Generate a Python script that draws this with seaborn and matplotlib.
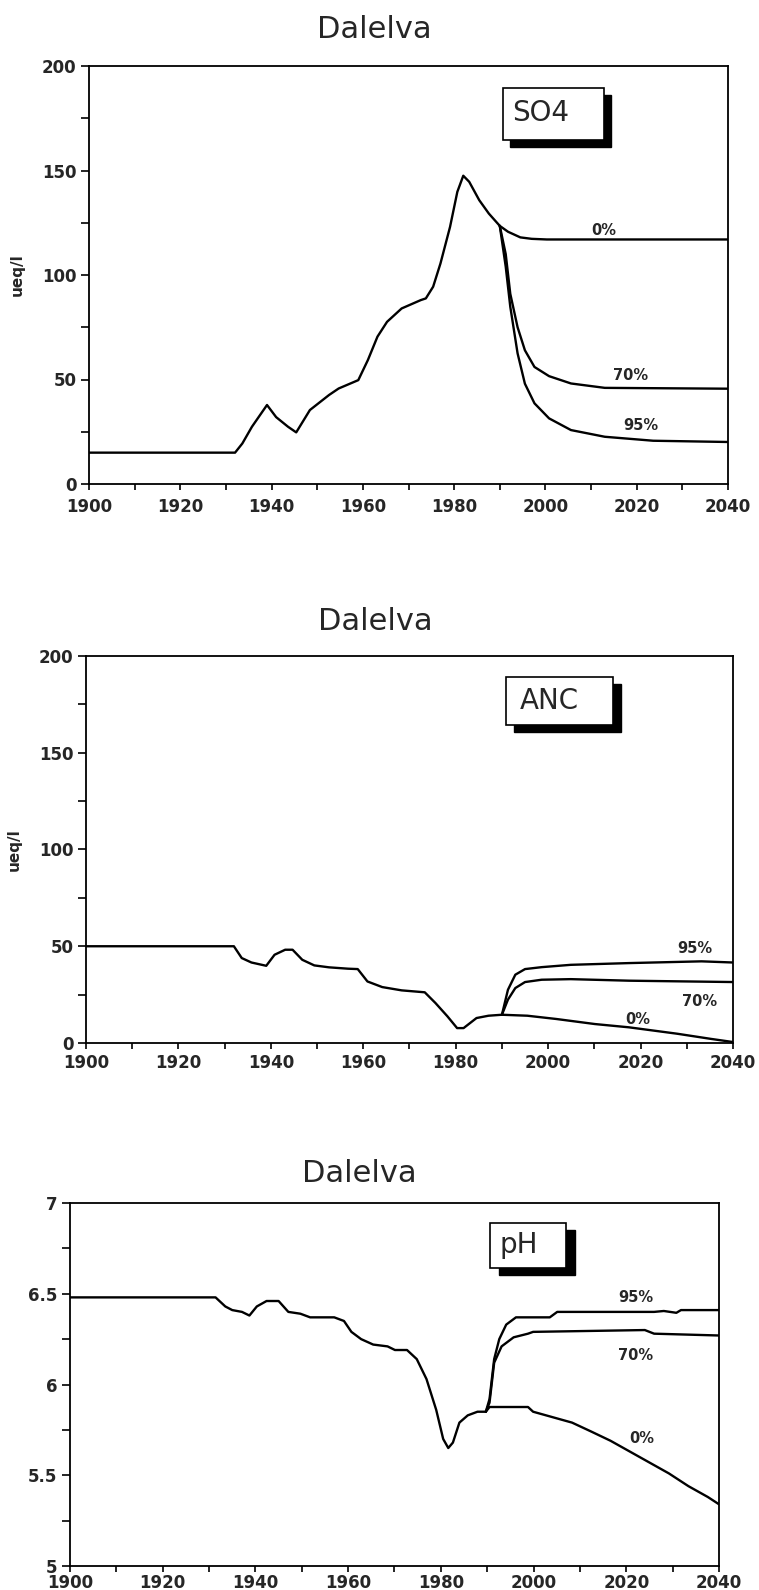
import numpy as np
import pandas as pd
import matplotlib
matplotlib.use("Agg")
import matplotlib.pyplot as plt
import seaborn as sns
from matplotlib.patches import Rectangle
from matplotlib.ticker import MultipleLocator, FuncFormatter

# ---- data ----
so4_hist_year = [1900, 1932, 1933.6, 1935.7, 1939, 1941, 1943.6, 1945.4, 1948.4, 1952.6, 1954.7,
                 1959, 1961.1, 1963.2, 1965.3, 1968.5, 1972.7, 1973.8, 1975.4, 1977, 1979.1,
                 1980.7, 1982, 1983.3, 1985.5, 1987.6, 1990]
so4_hist = [15, 15, 19.4, 27.4, 37.8, 32, 27.4, 24.7, 35.4, 42.6, 45.7, 49.7, 59.3, 70.5, 77.6,
            84, 88, 88.8, 94.4, 105.5, 123, 139.8, 147.5, 144.6, 135.8, 129.4, 123.5]
so4_0_year = [1990, 1991.8, 1994.5, 1997, 2000.3, 2040]
so4_0 = [123.5, 120.7, 118, 117.3, 117, 117]
so4_70_year = [1990, 1991.3, 1992.3, 1993.9, 1995.5, 1997.6, 2000.8, 2005.6, 2013, 2040]
so4_70 = [123.5, 110, 91, 75, 64, 56, 51.6, 48.1, 46, 45.6]
so4_95_year = [1990, 1991.3, 1992.3, 1993.9, 1995.5, 1997.6, 2000.8, 2005.6, 2013, 2023.6, 2040]
so4_95 = [123.5, 104, 84.8, 62.5, 48, 38.6, 31.4, 25.8, 22.6, 20.7, 20.1]

anc_hist_year = [1900, 1932, 1933.7, 1935.8, 1939, 1940.8, 1943.1, 1944.7, 1946.8, 1949.4, 1952.6,
                 1956.7, 1958.8, 1960.9, 1964.1, 1968.3, 1973.3, 1975.6, 1978.2, 1980.3, 1981.7,
                 1984.5, 1987.1, 1990]
anc_hist = [50, 50, 43.9, 41.6, 39.9, 45.6, 48.2, 48.2, 43, 40.1, 39.1, 38.4, 38.2, 31.8, 28.9,
            27.2, 26.2, 20.7, 13.8, 7.7, 7.7, 12.9, 14.1, 14.6]
anc_0_year = [1990, 1995.5, 2001.8, 2010.1, 2017.5, 2027.9, 2035.3, 2040]
anc_0 = [14.6, 14.1, 12.4, 9.8, 8.1, 4.8, 2.1, 0.5]
anc_70_year = [1990, 1991.3, 1992.9, 1995, 1998.6, 2004.9, 2017.5, 2040]
anc_70 = [14.6, 22.4, 28.4, 31.5, 32.7, 33, 32.2, 31.5]
anc_95_year = [1990, 1991.3, 1992.9, 1995, 1998.6, 2004.9, 2017.5, 2033.2, 2040]
anc_95 = [14.6, 27.5, 35.3, 38.2, 39.2, 40.4, 41.3, 42.2, 41.6]

ph_hist_year = [1900, 1931.4, 1933.5, 1935, 1937.1, 1938.7, 1940.3, 1942.4, 1945, 1947.1, 1949.7,
                1951.8, 1957, 1959.1, 1960.7, 1962.8, 1965.4, 1968.5, 1970.1, 1972.7, 1974.8,
                1976.9, 1979, 1980.5, 1981.6, 1982.6, 1984, 1985.8, 1987.9, 1989.7]
ph_hist = [6.48, 6.48, 6.43, 6.41, 6.40, 6.38, 6.43, 6.46, 6.46, 6.40, 6.39, 6.37, 6.37, 6.35,
           6.29, 6.25, 6.22, 6.21, 6.19, 6.19, 6.14, 6.03, 5.86, 5.70, 5.65, 5.68, 5.79, 5.83,
           5.85, 5.85]
ph_0_year = [1989.7, 1990.5, 1998.8, 1999.9, 2004.1, 2008.3, 2012.5, 2016.6, 2020.8, 2025,
             2029.2, 2033.4, 2037.6, 2040]
ph_0 = [5.85, 5.876, 5.876, 5.85, 5.82, 5.79, 5.74, 5.69, 5.63, 5.57, 5.51, 5.44, 5.38, 5.34]
ph_70_year = [1989.7, 1990.5, 1991.5, 1993.1, 1995.7, 1998.8, 1999.9, 2024, 2026, 2040]
ph_70 = [5.85, 5.90, 6.12, 6.21, 6.26, 6.28, 6.29, 6.30, 6.28, 6.27]
ph_95_year = [1989.7, 1990.5, 1991.5, 1992.6, 1994.1, 1996.2, 1999.9, 2003.5, 2005.1, 2026,
              2028.1, 2030.8, 2031.8, 2040]
ph_95 = [5.85, 5.92, 6.14, 6.25, 6.33, 6.37, 6.37, 6.37, 6.40, 6.40, 6.405, 6.395, 6.41, 6.41]

scenario_labels = ["0%", "70%", "95%"]

sns.set_style("ticks")
plt.rcParams['font.family'] = ['DejaVu Sans']

W, H = 759, 1590
fig = plt.figure(figsize=(W / 100, H / 100), dpi=100)


def px_axes(left, top, right, bottom):
    return fig.add_axes([left / W, 1 - bottom / H, (right - left) / W, (bottom - top) / H])


def shadow_box(left, top, right, bottom, dx, dy, text, tx, ty):
    # black offset rectangle first, then the white framed box over it
    fig.add_artist(Rectangle(((left + dx) / W, 1 - (bottom + dy) / H),
                             (right - left) / W, (bottom - top) / H, transform=fig.transFigure,
                             facecolor='black', edgecolor='black', zorder=5))
    fig.add_artist(Rectangle((left / W, 1 - bottom / H), (right - left) / W, (bottom - top) / H,
                             transform=fig.transFigure, facecolor='white', edgecolor='black',
                             linewidth=1.2, zorder=6))
    fig.text(tx / W, 1 - ty / H, text, fontsize=20, ha='left', va='center', zorder=7)


panels = [
    dict(box=(89, 66, 728, 484), title=(374, 29), ylim=(0, 200), major=50, minor=25,
         hist=(so4_hist_year, so4_hist),
         scen=[(so4_0_year, so4_0), (so4_70_year, so4_70), (so4_95_year, so4_95)],
         labpos=[(2012.8, 121.5), (2018.7, 51.7), (2020.9, 27.8)],
         ylabel=True, lbl_x=-0.100, xpad=6,
         sbox=(503, 88, 604, 140, 7, 7, "SO4", 512, 113)),
    dict(box=(86, 656, 733, 1043), title=(375, 622), ylim=(0, 200), major=50, minor=25,
         hist=(anc_hist_year, anc_hist),
         scen=[(anc_0_year, anc_0), (anc_70_year, anc_70), (anc_95_year, anc_95)],
         labpos=[(2019.3, 12.4), (2032.7, 21.2), (2031.8, 48.6)],
         ylabel=True, lbl_x=-0.099, xpad=4,
         sbox=(506, 677, 613, 725, 8, 7, "ANC", 520, 701)),
    dict(box=(70, 1203, 719, 1566), title=(359, 1173), ylim=(5, 7), major=0.5, minor=0.25,
         hist=(ph_hist_year, ph_hist),
         scen=[(ph_0_year, ph_0), (ph_70_year, ph_70), (ph_95_year, ph_95)],
         labpos=[(2023.4, 5.70), (2021.9, 6.16), (2022.1, 6.48)],
         ylabel=False, lbl_x=None, xpad=1.5,
         sbox=(490, 1223, 566, 1268, 9, 7, "pH", 499, 1245)),
]

for p in panels:
    ax = px_axes(*p['box'])
    frames = [pd.DataFrame({'year': p['hist'][0], 'value': p['hist'][1], 'run': 'hist'})]
    for lab, (yr, val) in zip(scenario_labels, p['scen']):
        frames.append(pd.DataFrame({'year': yr, 'value': val, 'run': lab}))
    df = pd.concat(frames, ignore_index=True)
    sns.lineplot(data=df, x='year', y='value', hue='run', units='run', estimator=None,
                 sort=False, palette=['black'] * 4, linewidth=1.7, legend=False, ax=ax)
    for lab, (lx, ly) in zip(scenario_labels, p['labpos']):
        ax.text(lx, ly, lab, fontsize=10.5, fontweight='bold', ha='center', va='center')

    ax.set_xlim(1900, 2040)
    ax.set_ylim(*p['ylim'])
    ax.xaxis.set_major_locator(MultipleLocator(20))
    ax.xaxis.set_minor_locator(MultipleLocator(10))
    ax.yaxis.set_major_locator(MultipleLocator(p['major']))
    ax.yaxis.set_minor_locator(MultipleLocator(p['minor']))
    ax.yaxis.set_major_formatter(FuncFormatter(lambda v, pos: '%g' % v))
    ax.tick_params(which='both', direction='out', width=1.2, color='black')
    ax.tick_params(axis='x', which='both', length=4)
    ax.tick_params(axis='y', which='both', length=6)
    ax.tick_params(axis='x', which='major', labelsize=12, pad=p['xpad'])
    ax.tick_params(axis='y', which='major', labelsize=12, pad=3)
    for lab in ax.get_xticklabels() + ax.get_yticklabels():
        lab.set_fontweight('bold')
    for s in ax.spines.values():
        s.set_visible(True)
        s.set_linewidth(1.3)
        s.set_color('black')
    ax.set_xlabel('')
    if p['ylabel']:
        ax.set_ylabel('ueq/l', fontsize=11, fontweight='bold')
        ax.yaxis.set_label_coords(p['lbl_x'], 0.5)
    else:
        ax.set_ylabel('')

    tx, ty = p['title']
    fig.text(tx / W, 1 - ty / H, 'Dalelva', fontsize=22, ha='center', va='center')
    shadow_box(*p['sbox'])

fig.savefig('out.png', dpi=100)
